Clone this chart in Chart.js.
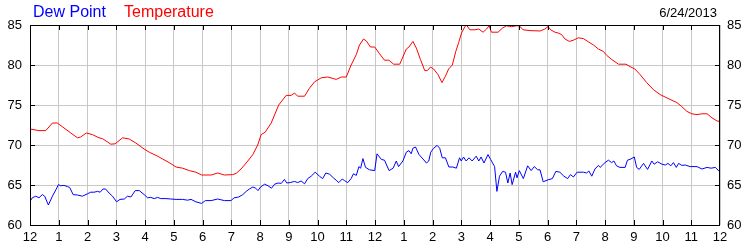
<!DOCTYPE html>
<html>
<head>
<meta charset="utf-8">
<script src="https://cdn.jsdelivr.net/npm/chart.js"></script>
<style>
html,body{margin:0;padding:0;background:#fff;}
#wrap{width:750px;height:250px;}
</style>
</head>
<body>
<div id="wrap"><canvas id="c" width="750" height="250"></canvas></div>
<script>
// hour of day (0..24) and readings
const tempTimes = [0,0.31,0.55,0.78,0.95,1.12,1.42,1.65,1.76,1.96,2.17,2.40,2.52,2.81,2.96,3.22,3.45,3.68,3.97,4.15,4.44,4.61,4.84,5.08,5.31,5.54,5.77,5.97,6.30,6.53,6.76,7.05,7.17,7.34,7.52,7.75,7.92,8.04,8.18,8.39,8.65,8.91,9.08,9.2,9.31,9.55,9.72,9.9,10.13,10.36,10.65,10.83,11.0,11.17,11.35,11.46,11.6,11.70,11.84,11.99,12.16,12.33,12.48,12.65,12.86,13.09,13.18,13.32,13.44,13.58,13.73,13.82,13.93,14.04,14.19,14.33,14.45,14.56,14.69,14.81,14.91,15.01,15.12,15.18,15.30,15.47,15.61,15.76,15.88,15.97,16.05,16.28,16.43,16.57,16.75,16.92,17.02,17.15,17.39,17.74,17.91,18.02,18.11,18.26,18.37,18.49,18.61,18.76,18.9,19.07,19.25,19.42,19.6,19.77,19.94,20.06,20.23,20.47,20.73,20.87,21.04,21.22,21.45,21.69,21.92,22.09,22.26,22.5,22.67,22.85,23.02,23.2,23.37,23.55,23.72,23.9,24.0];
const tempValues = [72.0,71.8,71.8,72.75,72.75,72.3,71.5,70.9,71.0,71.5,71.3,70.9,70.8,70.1,70.15,70.9,70.75,70.25,69.5,69.1,68.6,68.25,67.8,67.25,67.1,66.8,66.6,66.25,66.25,66.5,66.25,66.3,66.45,67.0,67.75,68.8,70.0,71.3,71.6,72.75,75.0,76.2,76.2,76.5,76.1,76.1,77.1,77.9,78.4,78.5,78.2,78.5,78.5,80.0,81.3,82.5,83.25,83.0,82.25,82.25,81.4,80.6,80.6,80.1,80.1,82.0,82.25,82.95,82.1,80.7,79.3,79.3,79.75,79.5,78.8,77.8,78.6,79.5,80.0,81.7,82.8,84.0,84.75,85.0,84.4,84.4,84.5,84.1,84.5,84.9,84.1,84.1,84.6,84.9,84.8,84.9,84.9,84.4,84.3,84.25,84.5,84.8,84.4,84.1,84.0,83.8,83.25,82.95,83.1,83.4,83.3,82.9,82.5,82.0,81.7,81.2,80.7,80.1,80.1,79.8,79.5,78.8,77.8,76.9,76.3,76.0,75.7,75.3,74.8,74.2,73.9,73.8,73.9,73.9,73.4,73.0,72.95];

const dewTimes = [0,0.08,0.2,0.31,0.43,0.51,0.64,0.78,0.9,0.99,1.07,1.18,1.3,1.38,1.5,1.65,1.82,2.0,2.11,2.23,2.35,2.44,2.54,2.63,2.75,2.87,3.01,3.13,3.28,3.39,3.51,3.66,3.8,3.97,4.09,4.2,4.32,4.44,4.55,4.73,4.9,5.08,5.31,5.48,5.6,5.77,5.97,6.1,6.3,6.53,6.76,6.99,7.1,7.26,7.4,7.52,7.63,7.75,7.85,7.93,8.02,8.16,8.28,8.4,8.51,8.63,8.74,8.85,8.93,9.05,9.2,9.31,9.43,9.55,9.66,9.78,9.92,10.07,10.18,10.29,10.42,10.55,10.65,10.74,10.86,10.94,11.05,11.17,11.25,11.35,11.44,11.5,11.58,11.67,11.81,11.99,12.07,12.22,12.33,12.49,12.63,12.74,12.82,12.97,13.09,13.18,13.26,13.32,13.41,13.53,13.67,13.79,13.87,13.94,14.04,14.16,14.25,14.34,14.45,14.57,14.71,14.83,14.94,15.0,15.08,15.17,15.27,15.38,15.52,15.61,15.69,15.79,15.93,16.02,16.16,16.24,16.33,16.44,16.54,16.62,16.7,16.77,16.89,16.94,17.02,17.16,17.31,17.43,17.54,17.66,17.74,17.85,18.02,18.17,18.29,18.43,18.57,18.7,18.8,18.9,19.03,19.25,19.36,19.44,19.54,19.65,19.77,19.83,20.0,20.12,20.23,20.31,20.4,20.52,20.7,20.78,20.87,21.02,21.1,21.19,21.34,21.48,21.63,21.71,21.83,21.98,22.1,22.19,22.29,22.38,22.48,22.56,22.67,22.79,22.96,23.2,23.37,23.55,23.69,23.84,23.96,24.0];
const dewValues = [62.95,63.4,63.6,63.4,63.8,63.6,62.5,63.6,64.4,65.05,64.9,64.95,64.8,64.7,63.8,63.75,63.6,63.9,64.1,64.1,64.2,64.1,64.5,64.5,64.0,63.6,62.9,63.2,63.25,63.6,63.5,64.3,64.3,63.8,63.4,63.45,63.3,63.45,63.3,63.3,63.25,63.2,63.2,63.1,63.2,62.9,62.7,63.05,63.05,63.25,63.05,63.05,63.4,63.5,63.8,64.2,64.5,64.75,64.6,64.3,64.75,65.1,64.9,64.6,65.1,65.25,65.2,65.7,65.25,65.3,65.45,65.3,65.5,65.15,65.8,66.1,66.6,66.1,65.8,66.5,66.35,65.9,65.6,65.3,65.75,65.55,65.3,65.8,66.4,66.2,67.3,67.1,68.3,67.2,66.9,66.8,68.9,68.2,68.1,66.8,67.1,68.0,67.3,68.0,69.1,69.3,68.9,69.6,69.75,68.8,68.25,67.75,68.0,69.1,69.6,69.95,69.6,68.4,68.4,67.25,67.25,67.1,68.4,68.0,68.5,68.0,68.4,68.0,68.6,68.0,68.5,67.75,68.8,68.2,67.3,64.2,66.1,66.7,66.6,65.25,66.5,65.05,66.6,65.9,66.8,65.8,67.4,66.8,67.3,66.9,66.9,65.4,65.65,65.8,66.7,66.6,66.1,65.8,66.3,66.0,66.6,66.6,66.5,66.75,66.1,67.0,67.45,67.2,67.8,68.1,67.8,68.0,67.4,67.2,67.2,68.1,68.2,68.5,67.2,66.95,67.7,66.95,68.0,67.6,67.9,67.6,67.5,67.7,67.4,67.8,67.2,67.7,67.45,67.5,67.3,67.3,67.0,67.2,67.1,67.2,66.75,66.75];

const hourLabels = ['12','1','2','3','4','5','6','7','8','9','10','11','12','1','2','3','4','5','6','7','8','9','10','11','12'];
const yTicks = [60,65,70,75,80,85];
const seriesNames = ['Dew Point','Temperature'];
const dateLabel = '6/24/2013';

const FONT = '"Liberation Sans", Arial, sans-serif';

const toXY = (t, v) => t.map((x, i) => ({x: x, y: v[i]}));

const framePlugin = {
  id: 'frame',
  afterDatasetsDraw(chart) {
    const {ctx, chartArea: a, scales} = chart;
    ctx.save();
    ctx.strokeStyle = '#000';
    ctx.lineWidth = 1;
    ctx.beginPath();
    // inner tick marks
    for (let h = 1; h < 24; h++) {
      const px = Math.round(scales.x.getPixelForValue(h)) + 0.5;
      ctx.moveTo(px, a.bottom); ctx.lineTo(px, a.bottom - 5);
      ctx.moveTo(px, a.top); ctx.lineTo(px, a.top + 5);
    }
    yTicks.slice(1, -1).forEach(v => {
      const py = Math.round(scales.y.getPixelForValue(v)) + 0.5;
      ctx.moveTo(a.left, py); ctx.lineTo(a.left + 5, py);
      ctx.moveTo(a.right, py); ctx.lineTo(a.right - 5, py);
    });
    ctx.stroke();
    ctx.strokeRect(a.left + 0.5, a.top + 0.5, a.right - a.left - 1, a.bottom - a.top);
    ctx.restore();
  },
  afterDraw(chart) {
    const ctx = chart.ctx;
    ctx.save();
    ctx.textBaseline = 'alphabetic';
    ctx.font = '16px ' + FONT;
    ctx.textAlign = 'left';
    ctx.fillStyle = '#0000ff';
    ctx.fillText(seriesNames[0], 33, 17);
    ctx.fillStyle = '#ff0000';
    ctx.fillText(seriesNames[1], 124, 17);
    ctx.font = '13px ' + FONT;
    ctx.fillStyle = '#000';
    ctx.textAlign = 'right';
    ctx.fillText(dateLabel, 717, 17);
    ctx.restore();
  }
};

const tickFont = {family: FONT, size: 13};

new Chart(document.getElementById('c'), {
  type: 'line',
  data: {
    datasets: [
      {label: seriesNames[1], data: toXY(tempTimes, tempValues), borderColor: '#ff0000', borderWidth: 1, pointRadius: 0, tension: 0, yAxisID: 'y'},
      {label: seriesNames[0], data: toXY(dewTimes, dewValues), borderColor: '#0000ff', borderWidth: 1, pointRadius: 0, tension: 0, yAxisID: 'y'}
    ]
  },
  options: {
    responsive: false,
    animation: false,
    devicePixelRatio: 1,
    layout: {padding: {top: 25, left: 0, right: 0, bottom: 0}},
    plugins: {legend: {display: false}, tooltip: {enabled: false}},
    scales: {
      x: {
        type: 'linear', min: 0, max: 24,
        afterFit(s) { s.height = 25; },
        ticks: {stepSize: 1, autoSkip: false, maxRotation: 0, padding: 5, color: '#000', font: tickFont,
          callback: v => hourLabels[v]},
        grid: {color: '#c8c8c8', drawTicks: false},
        border: {display: false}
      },
      y: {
        position: 'left', min: 60, max: 85,
        afterFit(s) { s.width = 30; },
        ticks: {stepSize: 5, padding: 8, color: '#000', font: tickFont},
        grid: {color: '#c8c8c8', drawTicks: false},
        border: {display: false}
      },
      y2: {
        position: 'right', min: 60, max: 85,
        afterFit(s) { s.width = 30; },
        ticks: {stepSize: 5, padding: 7, color: '#000', font: tickFont},
        grid: {display: false, drawTicks: false},
        border: {display: false}
      }
    }
  },
  plugins: [framePlugin]
});
</script>
</body>
</html>
